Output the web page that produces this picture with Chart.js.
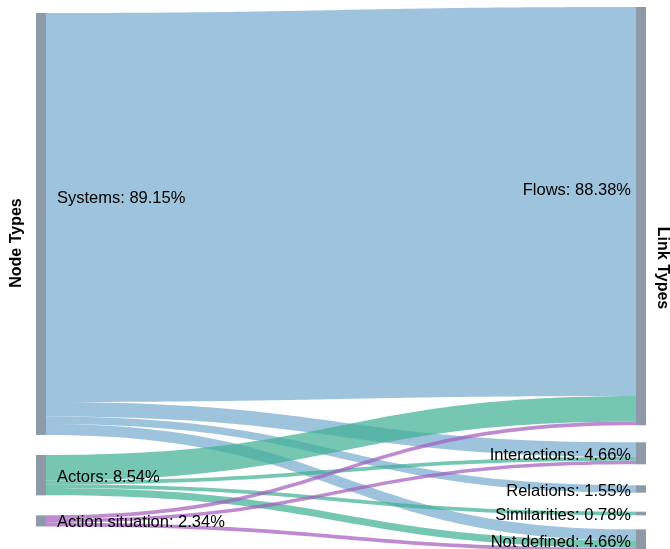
<!DOCTYPE html>
<html>
<head>
<meta charset="utf-8">
<script src="https://cdn.jsdelivr.net/npm/chart.js@4/dist/chart.umd.min.js"></script>
<style>
  html, body { margin: 0; padding: 0; background: #fff; }
  canvas { display: block; }
</style>
</head>
<body>
<canvas id="sankey" width="670" height="549"></canvas>
<script>
// node columns
const sourceNodes = ["Systems", "Actors", "Action situation"];
const sourceShares = [89.15, 8.54, 2.34];
const targetNodes = ["Flows", "Interactions", "Relations", "Similarities", "Not defined"];
const targetShares = [88.38, 4.66, 1.55, 0.78, 4.66];

// links (share of all links, %)
const linkSource = ["Systems", "Systems", "Systems", "Systems",
  "Actors", "Actors", "Actors", "Actors",
  "Action situation", "Action situation", "Action situation"];
const linkTarget = ["Flows", "Interactions", "Relations", "Not defined",
  "Flows", "Interactions", "Similarities", "Not defined",
  "Flows", "Interactions", "Not defined"];
const linkValue = [82.17, 3.10, 1.55, 2.33,
  5.43, 0.78, 0.78, 1.55,
  0.78, 0.78, 0.78];

const linkColors = {
  "Systems": "rgba(116, 169, 207, 0.7)",
  "Actors": "rgba(60, 175, 145, 0.7)",
  "Action situation": "rgba(162, 90, 190, 0.7)",
};
const nodeColor = "#8e9aa7";
const font = "16.5px 'Liberation Sans', Arial, sans-serif";
const titleFont = "bold 16px 'Liberation Sans', Arial, sans-serif";

const layoutCol = (names, shares, yScale, topPx, gaps) => {
  let acc = 0;
  let extra = topPx;
  return names.map((name, i) => {
    if (i > 0) extra += gaps[i - 1];
    const top = yScale.getPixelForValue(acc) + extra;
    acc += shares[i];
    const bottom = yScale.getPixelForValue(acc) + extra;
    return { name, share: shares[i], top, bottom, offset: top };
  });
};

const sankeyPlugin = {
  id: "sankey",
  afterDatasetsDraw(chart, args, opts) {
    const { ctx } = chart;
    const x = chart.scales.x;
    const y = chart.scales.y;
    const left = layoutCol(sourceNodes, sourceShares, y, opts.leftTop, opts.leftGaps);
    const right = layoutCol(targetNodes, targetShares, y, opts.rightTop, opts.rightGaps);
    const find = (col, name) => col.find((n) => n.name === name);

    const xs = x.getPixelForValue(0) + opts.nodeWidth;
    const xt = x.getPixelForValue(1) - opts.nodeWidth;
    const xm = (xs + xt) / 2;
    const unit = Math.abs(y.getPixelForValue(1) - y.getPixelForValue(0));

    ctx.save();
    linkValue.forEach((v, i) => {
      const s = find(left, linkSource[i]);
      const t = find(right, linkTarget[i]);
      const h = v * unit;
      const y0 = s.offset;
      const y1 = t.offset;
      s.offset += h;
      t.offset += h;
      ctx.beginPath();
      ctx.moveTo(xs, y0);
      ctx.bezierCurveTo(xm, y0, xm, y1, xt, y1);
      ctx.lineTo(xt, y1 + h);
      ctx.bezierCurveTo(xm, y1 + h, xm, y0 + h, xs, y0 + h);
      ctx.closePath();
      ctx.fillStyle = linkColors[linkSource[i]];
      ctx.fill();
    });

    // nodes
    ctx.fillStyle = nodeColor;
    left.forEach((n) => ctx.fillRect(x.getPixelForValue(0), n.top, opts.nodeWidth, n.bottom - n.top));
    right.forEach((n) => ctx.fillRect(xt, n.top, opts.nodeWidth, n.bottom - n.top));

    // labels
    ctx.font = font;
    ctx.fillStyle = "#000";
    ctx.textBaseline = "middle";
    const labelY = (n) => {
      const c = (n.top + n.bottom) / 2;
      return n.bottom - n.top > 100 ? c + opts.bigLabelDy : c + opts.smallLabelDy;
    };
    ctx.textAlign = "left";
    left.forEach((n) => ctx.fillText(`${n.name}: ${n.share.toFixed(2)}%`, xs + 11, labelY(n)));
    ctx.textAlign = "right";
    right.forEach((n) => ctx.fillText(`${n.name}: ${n.share.toFixed(2)}%`, xt - 5, labelY(n)));

    // column titles
    ctx.font = titleFont;
    ctx.textAlign = "center";
    ctx.save();
    ctx.translate(17, 243);
    ctx.rotate(-Math.PI / 2);
    ctx.fillText("Node Types", 0, 0);
    ctx.restore();
    ctx.save();
    ctx.translate(662, 268);
    ctx.rotate(Math.PI / 2);
    ctx.fillText("Link Types", 0, 0);
    ctx.restore();
    ctx.restore();
  },
};

const chart = new Chart(document.getElementById("sankey"), {
  type: "scatter",
  data: { datasets: [{ data: [] }] },
  options: {
    responsive: false,
    animation: false,
    devicePixelRatio: 1,
    layout: { padding: { left: 36, right: 24, top: 0, bottom: 0 } },
    plugins: {
      legend: { display: false },
      tooltip: { enabled: false },
      sankey: {
        nodeWidth: 10,
        leftTop: 13,
        leftGaps: [20, 20],
        rightTop: 7,
        rightGaps: [17, 21, 19, 14],
        bigLabelDy: -26,
        smallLabelDy: 2,
      },
    },
    scales: {
      x: { type: "linear", min: 0, max: 1, display: false },
      y: { type: "linear", min: 0, max: 116, reverse: true, display: false },
    },
  },
  plugins: [sankeyPlugin],
});
</script>
</body>
</html>
